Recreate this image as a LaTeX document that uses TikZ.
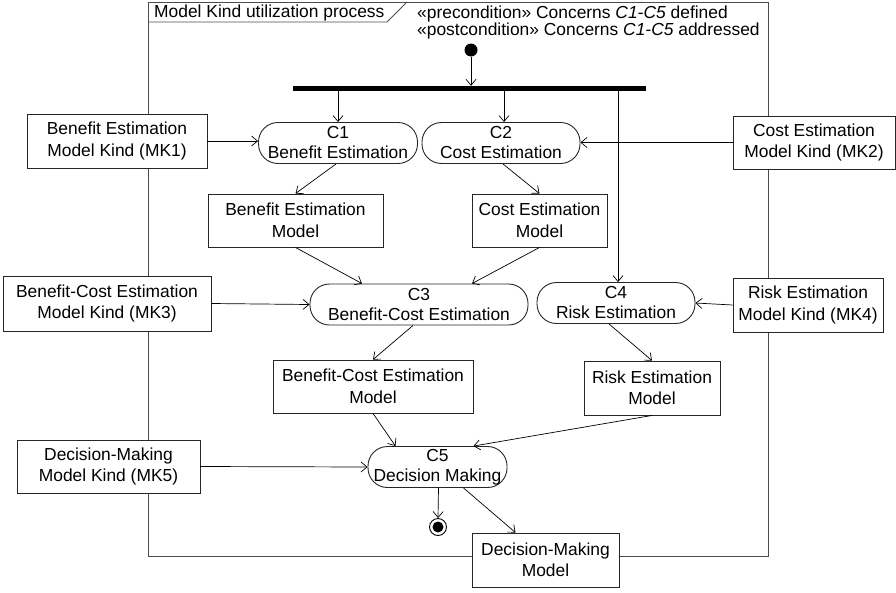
\documentclass[tikz,border=0pt]{standalone}
\usepackage{fontspec}
\setmainfont{Liberation Sans}
\usetikzlibrary{arrows.meta,calc}
\begin{document}
\begin{tikzpicture}[x=1pt,y=-1pt,
  every node/.style={font=\fontsize{17.4}{21.5}\selectfont, inner sep=0pt},
  obj/.style={draw=black!85, line width=0.9pt, fill=white, align=center, minimum width=#1},
  act/.style={draw=black!85, line width=0.9pt, fill=white, align=center, rounded corners=19.5pt, minimum width=#1, minimum height=41pt, font=\fontsize{17.4}{20}\selectfont},
  flow/.style={draw=black, line width=0.7pt, -{Straight Barb[length=6pt,width=10pt]}},
  framestyle/.style={draw=black!70, line width=0.9pt}
]
\useasboundingbox (0,0) rectangle (896,592);
% frame
\draw[framestyle] (148,2) rectangle (768,556);
\draw[framestyle] (148,22) -- (387,22) -- (407,2);
\node[anchor=west] (framelabel) at (154,12.5) {Model Kind utilization process};
\node[anchor=north west, align=left, font=\fontsize{17.4}{17}\selectfont] (cond) at (417,5.5)
  {«precondition» Concerns \textit{C1-C5} defined\\«postcondition» Concerns \textit{C1-C5} addressed};

% initial, fork, final
\node[circle, fill=black, minimum size=13pt] (init) at (471,50) {};
\node[rectangle, fill=black, minimum width=353pt, minimum height=5pt] (fork) at (469.5,88.5) {};
\node[circle, draw=black, line width=0.9pt, minimum size=17pt, fill=white] (final) at (438,527) {};
\fill[black] (final.center) circle (5.5pt);

% activities
\node[act=159pt] (c1) at (338,143) {C1\\Benefit Estimation};
\node[act=158pt] (c2) at (501,143) {C2\\Cost Estimation};
\node[act=218pt] (c3) at (419,304.5) {C3\\Benefit-Cost Estimation};
\node[act=158pt] (c4) at (616,303) {C4\\Risk Estimation};
\node[act=139pt] (c5) at (437.5,467) {C5\\Decision Making};

% objects
\node[obj=180pt, minimum height=54pt] (mk1) at (117,141) {Benefit Estimation\\Model Kind (MK1)};
\node[obj=162pt, minimum height=53pt] (mk2) at (814,142.5) {Cost Estimation\\Model Kind (MK2)};
\node[obj=208pt, minimum height=55pt] (mk3) at (107,303.5) {Benefit-Cost Estimation\\Model Kind (MK3)};
\node[obj=150pt, minimum height=54pt] (mk4) at (808,305) {Risk Estimation\\Model Kind (MK4)};
\node[obj=183pt, minimum height=53pt] (mk5) at (108.5,466.5) {Decision-Making\\Model Kind (MK5)};
\node[obj=175pt, minimum height=53pt] (bem) at (295.5,220.5) {Benefit Estimation\\Model};
\node[obj=135pt, minimum height=53pt] (cem) at (539.5,220.5) {Cost Estimation\\Model};
\node[obj=200pt, minimum height=53pt] (bcem) at (373,386.5) {Benefit-Cost Estimation\\Model};
\node[obj=136pt, minimum height=54pt] (rem) at (652,388) {Risk Estimation\\Model};
\node[obj=147pt, minimum height=54pt] (dmm) at (545.5,560) {Decision-Making\\Model};

% control flows
\draw[flow] (init.south) -- (init.south |- fork.north);
\draw[flow] (c1.north |- fork.south) -- (c1.north);
\draw[flow] ([xshift=3pt]c2.north |- fork.south) -- ([xshift=3pt]c2.north);
\draw[flow] ([xshift=2pt]c4.north |- fork.south) -- ([xshift=2pt]c4.north);

% object flows
\draw[flow] (mk1.east) -- (mk1.east -| c1.west);
\draw[flow] (mk2.west) -- (mk2.west -| c2.east);
\draw[flow] (mk3.east) -- (c3.west);
\draw[flow] (mk4.west) -- (c4.east);
\draw[flow] (mk5.east) -- (c5.west);
\draw[flow] ([xshift=-2pt]c1.south) -- (bem.north);
\draw[flow] ([xshift=2pt]c2.south) -- (cem.north);
\draw[flow] (bem.south) -- ([xshift=-57pt]c3.north);
\draw[flow] (cem.south) -- ([xshift=53pt]c3.north);
\draw[flow] ([xshift=-6pt]c3.south) -- (bcem.north);
\draw[flow] ([xshift=-7pt]c4.south) -- (rem.north);
\draw[flow] (bcem.south) -- ([xshift=-42pt]c5.north);
\draw[flow] (rem.south) -- ([xshift=36pt]c5.north);
\draw[flow] ([xshift=1pt]c5.south) -- (final.north);
\draw[flow] ([xshift=26pt]c5.south) -- ([xshift=-30pt]dmm.north);
\end{tikzpicture}
\end{document}
